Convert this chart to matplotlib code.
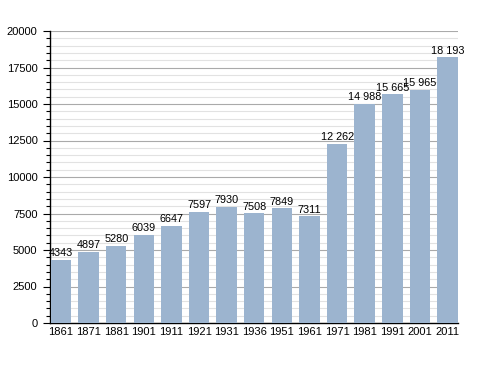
import numpy as np
import matplotlib.pyplot as plt
from matplotlib.ticker import MultipleLocator

years = ['1861', '1871', '1881', '1901', '1911', '1921', '1931', '1936',
         '1951', '1961', '1971', '1981', '1991', '2001', '2011']
population = [4343, 4897, 5280, 6039, 6647, 7597, 7930, 7508,
              7849, 7311, 12262, 14988, 15665, 15965, 18193]

plt.rcParams['font.family'] = ['Liberation Sans', 'DejaVu Sans']
plt.rcParams['font.size'] = 8

fig = plt.figure(figsize=(4.88, 3.73), dpi=100)
ax = fig.add_axes([50 / 488, 50 / 373, 408 / 488, 292 / 373])

x = np.arange(len(years))
ax.bar(x, population, width=0.74, color='#9cb4cf', zorder=3)

for xi, v in zip(x, population):
    if v >= 10000:
        label = '{} {:03d}'.format(v // 1000, v % 1000)
    else:
        label = str(v)
    ax.text(xi, v + 120, label, ha='center', va='bottom', fontsize=7.8, zorder=4)

ax.set_xlim(-0.4, len(years) - 0.62)
ax.set_ylim(0, 20000)
ax.set_xticks(x)
ax.set_xticklabels(years)
ax.yaxis.set_major_locator(MultipleLocator(2500))
ax.yaxis.set_minor_locator(MultipleLocator(500))
ax.grid(axis='y', which='major', color='#aaaaaa', linewidth=0.8, zorder=0)
ax.grid(axis='y', which='minor', color='#e2e2e2', linewidth=0.8, zorder=0)

ax.spines['top'].set_visible(False)
ax.spines['right'].set_visible(False)
ax.spines['left'].set_linewidth(1)
ax.spines['bottom'].set_linewidth(1)
ax.tick_params(axis='x', length=0, pad=3)
ax.tick_params(axis='y', which='major', length=5, width=0.8, pad=4)
ax.tick_params(axis='y', which='minor', length=3, width=0.8)

fig.savefig('out.png', dpi=100)
